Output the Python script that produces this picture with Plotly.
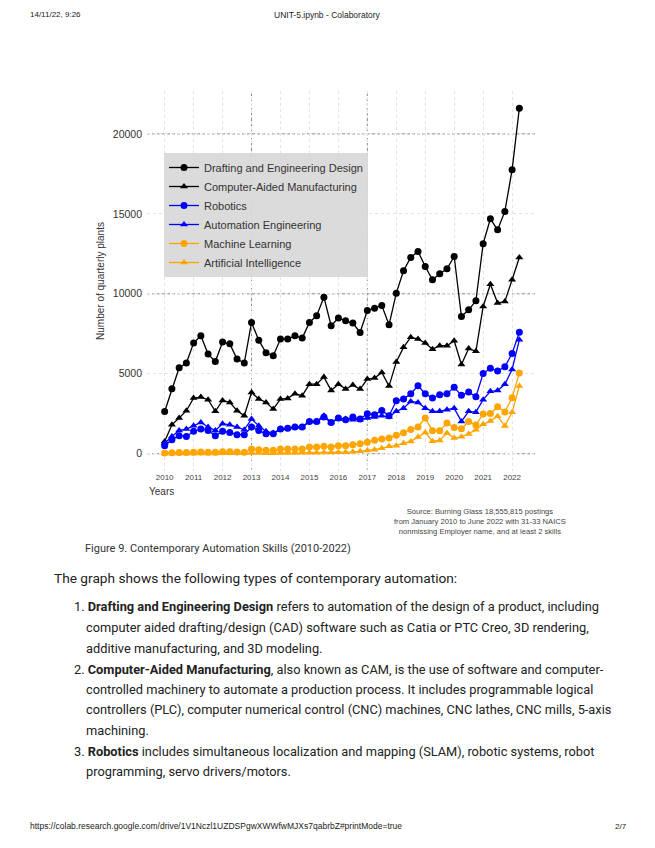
import plotly.graph_objects as go

# The browser page adds an 8px body margin, so the figure is 16px smaller than
# the window and every reference pixel position is shifted by 8px.
PAGE_W, PAGE_H = 655, 848
OFF = 8
W, H = PAGE_W - 2 * OFF, PAGE_H - 2 * OFF


def px(x):
    return (x - OFF) / W


def py(y):
    return 1 - (y - OFF) / H


# ---------------- data ----------------
years = list(range(2010, 2023))
quarter_offsets = [0.0, 0.25, 0.5, 0.75]
n_points = 50  # 2010 Q1 .. 2022 Q2
x_quarters = [y + q for y in years for q in quarter_offsets][:n_points]

drafting = [2640, 4060, 5380, 5670, 6920, 7380, 6230, 5770, 6980, 6870,
            5920, 5670, 8210, 7100, 6310, 6130, 7170, 7170, 7380, 7230,
            8210, 8630, 9790, 8000, 8480, 8310, 8170, 7580, 8960, 9100,
            9270, 8060, 10040, 11440, 12270, 12650, 11710, 10880, 11250, 11560,
            12330, 8580, 9000, 9560, 13130, 14690, 14000, 15150, 17750, 21600]
cam = [770, 1810, 2230, 2690, 3480, 3540, 3380, 2650, 3330, 3210,
       2690, 2380, 3830, 3420, 3210, 2790, 3420, 3460, 3750, 3630,
       4350, 4350, 4790, 3960, 4350, 4040, 4290, 4040, 4670, 4730,
       5080, 4230, 5740, 6650, 7290, 7170, 6920, 6540, 6750, 6750,
       7060, 5580, 6580, 6400, 9210, 10600, 9420, 9520, 10880, 12270]
robotics = [500, 880, 1130, 1080, 1400, 1540, 1460, 1130, 1400, 1330,
            1190, 1190, 1670, 1460, 1250, 1250, 1540, 1600, 1670, 1670,
            2020, 2020, 2290, 1960, 2230, 2130, 2290, 2170, 2500, 2440,
            2710, 2380, 3310, 3420, 3750, 4250, 3750, 3480, 3690, 3750,
            4150, 3650, 3860, 3560, 5010, 5350, 5170, 5440, 6270, 7600]
automation = [670, 1080, 1460, 1540, 1750, 1960, 1670, 1460, 1880, 1810,
              1670, 1500, 2170, 1750, 1400, 1290, 1540, 1600, 1670, 1670,
              2020, 2020, 2380, 1960, 2170, 2170, 2130, 2130, 2230, 2290,
              2380, 2290, 2650, 2850, 3270, 3210, 2850, 2650, 2650, 2750,
              2850, 2020, 2650, 2600, 3380, 3900, 3950, 4340, 5270, 7120]
machine_learning = [50, 60, 70, 80, 100, 110, 100, 90, 130, 120,
                    110, 100, 290, 250, 210, 210, 290, 290, 290, 290,
                    420, 420, 460, 420, 500, 500, 560, 630, 710, 850,
                    920, 990, 1150, 1310, 1520, 1670, 2230, 1430, 1430, 1920,
                    1640, 1560, 2020, 1790, 2490, 2510, 2940, 2610, 3500, 5050]
artificial_intelligence = [10, 10, 15, 15, 20, 20, 20, 20, 25, 25,
                           25, 25, 40, 40, 35, 35, 45, 45, 50, 55,
                           60, 65, 70, 70, 90, 100, 120, 150, 200, 250,
                           340, 460, 500, 660, 770, 1040, 1330, 780, 830, 1290,
                           980, 1060, 1240, 1500, 1840, 2040, 2350, 1730, 2590, 4230]

series_names = ["Drafting and Engineering Design", "Computer-Aided Manufacturing",
                "Robotics", "Automation Engineering", "Machine Learning",
                "Artificial Intelligence"]
series_values = [drafting, cam, robotics, automation, machine_learning,
                 artificial_intelligence]
series_colors = ["black", "black", "blue", "blue", "orange", "orange"]
series_symbols = ["circle", "triangle-up", "circle", "triangle-up", "circle",
                  "triangle-up"]

y_ticks = [0, 5000, 10000, 15000, 20000]
dark_h_lines = [0, 10000, 20000]
dark_v_lines = [2013, 2017]

# ---------------- figure ----------------
fig = go.Figure()
for name, vals, col, sym in zip(series_names, series_values, series_colors,
                                series_symbols):
    fig.add_trace(go.Scatter(
        x=x_quarters, y=vals, name=name, mode="lines+markers",
        line=dict(color=col, width=1.3),
        marker=dict(symbol=sym, size=7, color=col),
    ))

grid_faint = "#e4e4e4"
grid_dark = "#8c8c8c"

fig.update_layout(
    width=W, height=H, margin=dict(l=0, r=0, t=0, b=0),
    paper_bgcolor="white", plot_bgcolor="white",
    showlegend=True,
    font=dict(family="Liberation Sans, Arial", color="#333"),
    legend=dict(
        x=px(164), y=py(153), xanchor="left", yanchor="top",
        bgcolor="rgba(216,216,216,0.92)", borderwidth=0,
        font=dict(size=11, color="#333", family="Liberation Sans, Arial"),
        itemwidth=30, tracegroupgap=0,
    ),
    xaxis=dict(
        domain=[px(147), px(537)], range=[2009.39, 2022.86],
        tickvals=years, ticktext=[str(y) for y in years],
        tickfont=dict(size=8, color="#444"),
        showgrid=True, gridcolor=grid_faint, griddash="dot", gridwidth=1,
        zeroline=False, showline=False, ticks="",
    ),
    yaxis=dict(
        domain=[py(471), py(91)], range=[-1080, 22680],
        tickvals=y_ticks, ticktext=[str(v) for v in y_ticks],
        tickfont=dict(size=10.5, color="#333"),
        showgrid=True, gridcolor=grid_faint, griddash="dot", gridwidth=1,
        zeroline=False, showline=False, ticks="", ticklabelstandoff=4,
        title=dict(text="Number of quarterly plants", font=dict(size=10, color="#333"),
                   standoff=6),
    ),
)

for v in dark_h_lines:
    fig.add_shape(type="line", xref="x domain", yref="y", x0=0, x1=1, y0=v, y1=v,
                  line=dict(color=grid_dark, width=1, dash="3px,2px"), layer="below")
for v in dark_v_lines:
    fig.add_shape(type="line", xref="x", yref="y domain", x0=v, x1=v, y0=0, y1=1,
                  line=dict(color=grid_dark, width=1, dash="3px,2px"), layer="below")


def text(x, y, s, size, color="#222", family="Roboto", xanchor="left", align="left",
         yanchor="middle"):
    fig.add_annotation(x=px(x), y=py(y), xref="paper", yref="paper", text=s,
                       showarrow=False, xanchor=xanchor, yanchor=yanchor, align=align,
                       font=dict(size=size, color=color, family=family))


narrow = "Liberation Sans Narrow, Liberation Sans"
# page header (anchored at the top edge of the figure) / footer
text(28, OFF, "14/11/22, 9:26", 8, "#222", narrow, yanchor="top")
text(327, OFF, "UNIT-5.ipynb - Colaboratory", 8.5, "#222", narrow, xanchor="center",
     yanchor="top")
text(28, 826, "https://colab.research.google.com/drive/1V1Nczl1UZDSPgwXWWfwMJXs7qabrbZ#printMode=true",
     8.5, "#222", narrow)
text(613, 826, "2/7", 8, "#222", narrow)

# chart extras
text(147, 491, "Years", 10, "#333", "Liberation Sans, Arial")
text(480, 521, "Source: Burning Glass 18,555,815 postings<br>from January 2010 to June 2022 with 31-33 NAICS<br>nonmissing Employer name, and at least 2 skills",
     7.6, "#444", "Liberation Sans, Arial", xanchor="center", align="center")

# caption and body
text(83, 548, "Figure 9. Contemporary Automation Skills (2010-2022)", 11, "#333")
text(52, 578, "The graph shows the following types of contemporary automation:", 13.7, "#222")

body_size = 12.8
lines = [
    (72, 606, "1. <b>Drafting and Engineering Design</b> refers to automation of the design of a product, including"),
    (84, 627, "computer aided drafting/design (CAD) software such as Catia or PTC Creo, 3D rendering,"),
    (84, 648, "additive manufacturing, and 3D modeling."),
    (72, 669, "2. <b>Computer-Aided Manufacturing</b>, also known as CAM, is the use of software and computer-"),
    (84, 689, "controlled machinery to automate a production process. It includes programmable logical"),
    (84, 709, "controllers (PLC), computer numerical control (CNC) machines, CNC lathes, CNC mills, 5-axis"),
    (84, 730, "machining."),
    (72, 751, "3. <b>Robotics</b> includes simultaneous localization and mapping (SLAM), robotic systems, robot"),
    (84, 771, "programming, servo drivers/motors."),
]
for x, y, s in lines:
    text(x, y, s, body_size, "#222")

fig.write_html("out.html")
